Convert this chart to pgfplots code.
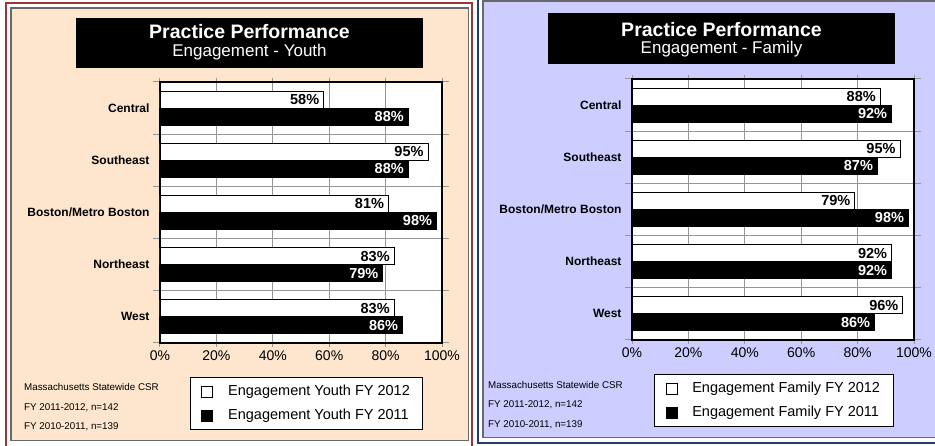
\documentclass[border=0pt]{standalone}
\usepackage{fontspec}
\setmainfont{Liberation Sans}
\usepackage{pgfplots}
\pgfplotsset{compat=1.18}

\definecolor{peach}{RGB}{254,229,205}
\definecolor{lav}{RGB}{205,205,255}
\definecolor{redb}{RGB}{158,52,52}
\definecolor{blueb}{RGB}{32,62,112}
\definecolor{frameg}{RGB}{105,105,105}
\definecolor{gridg}{RGB}{150,150,150}

\pgfplotsset{
 engstyle/.style={
  xbar, scale only axis, width=282pt, height=261pt,
  xmin=0, xmax=100, ymin=0.5, ymax=5.5,
  axis background/.style={fill=white},
  axis line style={black, line width=1.2pt},
  xtick={0,20,40,60,80,100},
  xticklabels={0\%,20\%,40\%,60\%,80\%,100\%},
  ytick={1,2,3,4,5},
  yticklabels={West,Northeast,Boston/Metro Boston,Southeast,Central},
  minor ytick={0.5,1.5,2.5,3.5,4.5,5.5},
  xmajorgrids, yminorgrids,
  major grid style={gridg, line width=1pt},
  minor grid style={gridg, line width=1pt},
  tick align=outside,
  major tick length=4pt, minor tick length=7pt,
  major x tick style={gridg, line width=1pt},
  major y tick style={draw=none},
  minor y tick style={gridg, line width=1pt},
  xticklabel style={font=\fontsize{14}{16}\selectfont},
  yticklabel style={font=\bfseries\fontsize{12}{14}\selectfont, xshift=-3pt},
  bar width=17pt,
  point meta=x,
  nodes near coords={\pgfmathprintnumber[assume math mode=true]{\pgfplotspointmeta}\%},
  nodes near coords align={anchor=east},
  every node near coord/.append style={font=\bfseries\fontsize{14.5}{16}\selectfont, inner sep=2pt, xshift=-2pt},
  legend image code/.code={\draw[#1,line width=0.8pt] (0pt,-5.5pt) rectangle (11pt,5.5pt);},
  legend style={draw=black, line width=1pt, fill=white, font=\fontsize{14.5}{17}\selectfont, anchor=north west, inner xsep=11pt, inner ysep=6pt, row sep=8pt, cells={anchor=west},
    /tikz/every odd column/.append style={column sep=13pt}},
  legend cell align=left,
 },
}

\begin{document}
\begin{tikzpicture}[x=1pt,y=1pt]
\path[use as bounding box] (0,0) rectangle (935,446);
\fill[white] (0,0) rectangle (935,446);
% left panel
\draw[redb, line width=2.5pt] (6,-10) -- (6,443) -- (472,443) -- (472,-10);
\filldraw[fill=peach, draw=frameg, line width=1.8pt] (11,5.5) rectangle (468.5,438);
% right panel
\draw[blueb, line width=2pt] (478,460) -- (478,2.5) -- (950,2.5);
\filldraw[fill=lav, draw=frameg, line width=1.8pt] (483,8.5) rectangle (950,445);

% titles
\fill[black] (76,378) rectangle (423,428);
\node[white, font=\bfseries\fontsize{19.5}{22}\selectfont] at (249.5,414.3) {Practice Performance};
\node[white, font=\fontsize{17}{19}\selectfont] at (249.5,393.5) {Engagement - Youth};
\fill[black] (548,382) rectangle (895,433);
\node[white, font=\bfseries\fontsize{19.5}{22}\selectfont] at (721.5,416.7) {Practice Performance};
\node[white, font=\fontsize{17}{19}\selectfont] at (721.5,396.5) {Engagement - Family};

% footnotes
\begin{scope}[every node/.style={anchor=base west, inner sep=0pt, font=\fontsize{9.8}{11}\selectfont}]
\node at (24,55) {Massachusetts Statewide CSR};
\node at (24,35.4) {FY 2011-2012, n=142};
\node at (24,16) {FY 2010-2011, n=139};
\node at (488,57) {Massachusetts Statewide CSR};
\node at (488,38.4) {FY 2011-2012, n=142};
\node at (488,18.7) {FY 2010-2011, n=139};
\end{scope}

\coordinate (LA) at (160,103);
\coordinate (RA) at (632,106);

% left axis
\begin{axis}[engstyle, at={(LA)}, anchor=south west,
  legend style={at={(0.106,-0.130)}}]
\addplot[fill=white, draw=black, line width=0.8pt, bar shift=8.5pt]
  coordinates {(58,5) (95,4) (81,3) (83,2) (83,1)};
\addlegendentry{Engagement Youth FY 2012}
\addplot[fill=black, draw=black, line width=0.8pt, bar shift=-8.5pt,
  every node near coord/.append style={text=white}]
  coordinates {(88,5) (88,4) (98,3) (79,2) (86,1)};
\addlegendentry{Engagement Youth FY 2011}
\end{axis}

% right axis
\begin{axis}[engstyle, at={(RA)}, anchor=south west,
  legend style={at={(0.078,-0.130)}}]
\addplot[fill=white, draw=black, line width=0.8pt, bar shift=8.5pt]
  coordinates {(88,5) (95,4) (79,3) (92,2) (96,1)};
\addlegendentry{Engagement Family FY 2012}
\addplot[fill=black, draw=black, line width=0.8pt, bar shift=-8.5pt,
  every node near coord/.append style={text=white}]
  coordinates {(92,5) (87,4) (98,3) (92,2) (86,1)};
\addlegendentry{Engagement Family FY 2011}
\end{axis}
\end{tikzpicture}
\end{document}
